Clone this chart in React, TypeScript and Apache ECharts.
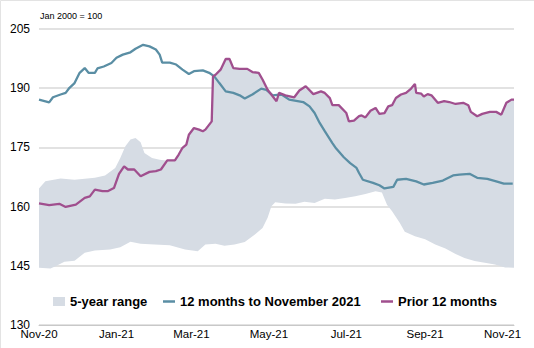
import React, { useEffect, useRef } from "react";
import * as echarts from "echarts";

// x values are days since 1 Nov 2020
const xTickDays = [0, 61, 120, 181, 242, 304, 365];
const xTickLabels = ["Nov-20", "Jan-21", "Mar-21", "May-21", "Jul-21", "Sep-21", "Nov-21"];
const unitNote = "Jan 2000 = 100";
const seriesNames = ["5-year range", "12 months to November 2021", "Prior 12 months"];

const rangeHigh: [number, number][] = [
  [0, 164.6], [5, 166.4], [17, 167.1], [28, 166.8], [44, 167.3], [52, 167.9], [60, 169.8], [64, 172.3],
  [68, 175.3], [72, 177], [76, 177.4], [80, 176.3], [83, 173.6], [89, 172.3], [95, 171.9], [100, 171.7],
  [107, 171.7], [110, 173.2], [113, 174.9], [116, 175.7], [118, 178.2], [122, 179.9], [126, 179.5],
  [129, 179.1], [131, 179.5], [136, 181.6], [137, 193], [139, 193.4], [143, 194.7], [147, 197.4],
  [150, 197.4], [153, 195.1], [158, 194.9], [164, 194.9], [168, 194.1], [173, 193.9], [176, 192.2],
  [180, 189.6], [187, 186.7], [189, 188.8], [194, 188.2], [201, 187.7], [205, 189.4], [210, 190.5],
  [216, 188.5], [222, 189.2], [225, 188.8], [229, 187.5], [231, 185.7], [236, 185.7], [242, 183.7],
  [244, 181.6], [248, 181.8], [252, 182.9], [254, 183.1], [257, 182.6], [261, 184.3], [265, 185],
  [268, 183.5], [272, 183.7], [275, 185.4], [278, 185.7], [281, 187.5], [285, 188.4], [289, 188.8],
  [293, 189.9], [296, 191.1], [297, 188.8], [301, 188.6], [303, 187.9], [306, 188.5], [309, 188.2],
  [314, 186.3], [319, 186.7], [323, 186.5], [328, 186], [334, 186.3], [338, 185.7], [340, 184],
  [345, 182.9], [349, 183.5], [355, 184], [360, 184], [364, 183.3], [368, 186.3], [372, 187.1], [374, 187.1],
];

const rangeLow: [number, number][] = [
  [0, 144.5], [9, 144.3], [13, 144.9], [20, 146], [28, 146.3], [36, 148.3], [44, 148.9], [56, 149.1],
  [64, 149.7], [72, 151.1], [80, 150.6], [91, 150.4], [103, 150.2], [115, 149.1], [125, 148.7],
  [131, 150.4], [139, 150.6], [146, 150.1], [154, 150.4], [162, 151], [170, 152.9], [176, 154.6],
  [180, 157.2], [183, 160.1], [186, 161.1], [194, 160.8], [202, 160.7], [209, 161.2], [217, 160.9],
  [225, 162], [233, 161.8], [241, 162.2], [249, 162.6], [257, 163.2], [265, 163.9], [270, 163.6],
  [274, 160.5], [278, 158.8], [284, 155.9], [288, 153.6], [296, 152.5], [304, 151.7], [312, 150.4],
  [320, 149.4], [328, 148], [335, 147], [343, 146.2], [351, 145.8], [359, 145.3], [367, 144.6], [374, 144.5],
];

const last12: [number, number][] = [
  [0, 187.1], [8, 186.4], [11, 187.7], [17, 188.4], [21, 188.8], [24, 190.1], [28, 191.3], [32, 193.9],
  [36, 195.1], [39, 193.9], [44, 193.9], [46, 195], [51, 195.5], [57, 196.4], [61, 197.7], [66, 198.5],
  [72, 199.1], [76, 200], [82, 201], [87, 200.6], [92, 199.8], [95, 198.5], [97, 196.5], [103, 196.5],
  [108, 196], [113, 194.7], [118, 193.6], [122, 194.3], [129, 194.5], [134, 193.9], [138, 193],
  [142, 191.3], [147, 189.2], [153, 188.8], [158, 188.2], [162, 187.4], [168, 188.4], [175, 189.9],
  [179, 189.6], [184, 188.2], [191, 188.4], [197, 187.1], [208, 186.5], [213, 185.4], [217, 183.7],
  [221, 181.2], [225, 179.1], [231, 176.1], [234, 174.7], [240, 172.5], [245, 171], [250, 169.8],
  [252, 168.5], [255, 166.8], [263, 166], [268, 165.4], [272, 164.6], [279, 165], [282, 166.8],
  [289, 167], [297, 166.4], [303, 165.6], [310, 166], [318, 166.6], [326, 167.9], [331, 168.1],
  [339, 168.3], [345, 167.3], [353, 167], [360, 166.4], [366, 165.8], [373, 165.8],
];

const prior12: [number, number][] = [
  [0, 160.8], [8, 160.4], [16, 160.7], [21, 159.9], [29, 160.5], [36, 162.2], [40, 162.6], [44, 164.3],
  [50, 163.9], [54, 163.9], [59, 164.7], [63, 168.3], [67, 170.2], [70, 169.4], [75, 169.4], [80, 167.7],
  [87, 168.8], [92, 169], [96, 169.4], [101, 171.7], [107, 171.7], [110, 173.2], [113, 174.9],
  [116, 175.7], [118, 178.2], [122, 179.9], [126, 179.5], [129, 179.1], [131, 179.5], [136, 181.6],
  [137, 193], [139, 193.4], [143, 194.7], [147, 197.4], [150, 197.4], [153, 195.1], [158, 194.9],
  [164, 194.9], [168, 194.1], [173, 193.9], [176, 192.2], [180, 189.6], [187, 186.7], [189, 188.8],
  [194, 188.2], [201, 187.7], [205, 189.4], [210, 190.5], [216, 188.5], [222, 189.2], [225, 188.8],
  [229, 187.5], [231, 185.7], [236, 185.7], [242, 183.7], [244, 181.6], [248, 181.8], [252, 182.9],
  [254, 183.1], [257, 182.6], [261, 184.3], [265, 185], [268, 183.5], [272, 183.7], [275, 185.4],
  [278, 185.7], [281, 187.5], [285, 188.4], [289, 188.8], [293, 189.9], [296, 191.1], [297, 188.8],
  [301, 188.6], [303, 187.9], [306, 188.5], [309, 188.2], [314, 186.3], [319, 186.7], [323, 186.5],
  [328, 186], [334, 186.3], [338, 185.7], [340, 184], [345, 182.9], [349, 183.5], [355, 184],
  [360, 184], [364, 183.3], [368, 186.3], [372, 187.1], [374, 187.1],
];

const BAND = "#d6dce4";
const TEAL = "#5a8ea4";
const PURPLE = "#a04f8e";
const FONT = "Liberation Sans, Arial, sans-serif";

export default function App() {
  const ref = useRef<HTMLDivElement>(null);
  useEffect(() => {
    if (!ref.current) return;
    const chart = echarts.init(ref.current, null, { renderer: "svg" });
    const legendBase = {
      top: 295,
      padding: 0,
      itemGap: 0,
      selectedMode: false,
      icon: "rect",
      itemWidth: 12,
      textStyle: { fontFamily: FONT, fontSize: 13, fontWeight: "bold", color: "#000" },
    };
    chart.setOption({
      animation: false,
      backgroundColor: "#fff",
      grid: { left: 39, right: 20, top: 29, bottom: 23, containLabel: false },
      graphic: [
        {
          type: "rect",
          shape: { x: 0.5, y: 0.5, width: 600, height: 400 },
          style: { fill: "none", stroke: "#e3e3e3", lineWidth: 1 },
          silent: true,
        },
        {
          type: "text",
          left: 40,
          top: 11,
          style: { text: unitNote, fontFamily: FONT, fontSize: 9, fill: "#000" },
        },
      ],
      legend: [
        { ...legendBase, left: 53, itemHeight: 9, data: [{ name: seriesNames[0], itemStyle: { color: BAND } }] },
        { ...legendBase, left: 163, itemHeight: 2.5, data: [{ name: seriesNames[1], itemStyle: { color: TEAL } }] },
        { ...legendBase, left: 381, itemHeight: 2.5, data: [{ name: seriesNames[2], itemStyle: { color: PURPLE } }] },
      ],
      xAxis: {
        type: "value",
        min: 0,
        max: 374,
        axisLine: { show: true, lineStyle: { color: "#c8c8c8", width: 1 } },
        axisTick: { show: false },
        splitLine: { show: false },
        axisLabel: {
          customValues: xTickDays,
          formatter: (v: number) => {
            const i = xTickDays.indexOf(Math.round(v));
            return i >= 0 ? xTickLabels[i] : "";
          },
          margin: 3,
          fontFamily: FONT,
          fontSize: 11.5,
          color: "#000",
        },
      },
      yAxis: {
        type: "value",
        min: 130,
        max: 205,
        interval: 15,
        axisLine: { show: false },
        axisTick: { show: false },
        splitLine: { lineStyle: { color: "#d9d9d9", width: 1.5 } },
        axisLabel: { margin: 9, fontFamily: FONT, fontSize: 12, color: "#000" },
      },
      series: [
        {
          type: "custom",
          name: seriesNames[0],
          silent: true,
          z: 1,
          itemStyle: { color: BAND },
          data: [[0, 150]],
          renderItem: (_params: any, api: any) => {
            const pts = [
              ...rangeHigh.map((p) => api.coord(p)),
              ...rangeLow.slice().reverse().map((p) => api.coord(p)),
            ];
            return { type: "polygon", shape: { points: pts }, style: { fill: BAND } };
          },
        },
        {
          type: "line",
          name: seriesNames[1],
          data: last12,
          showSymbol: false,
          z: 3,
          lineStyle: { color: TEAL, width: 2.3 },
          itemStyle: { color: TEAL },
        },
        {
          type: "line",
          name: seriesNames[2],
          data: prior12,
          showSymbol: false,
          z: 4,
          lineStyle: { color: PURPLE, width: 2.3 },
          itemStyle: { color: PURPLE },
        },
      ],
    });
    return () => chart.dispose();
  }, []);
  return (
    <div
      ref={ref}
      style={{ position: "fixed", left: 0, top: 0, width: 534, height: 348, background: "#fff" }}
    />
  );
}
